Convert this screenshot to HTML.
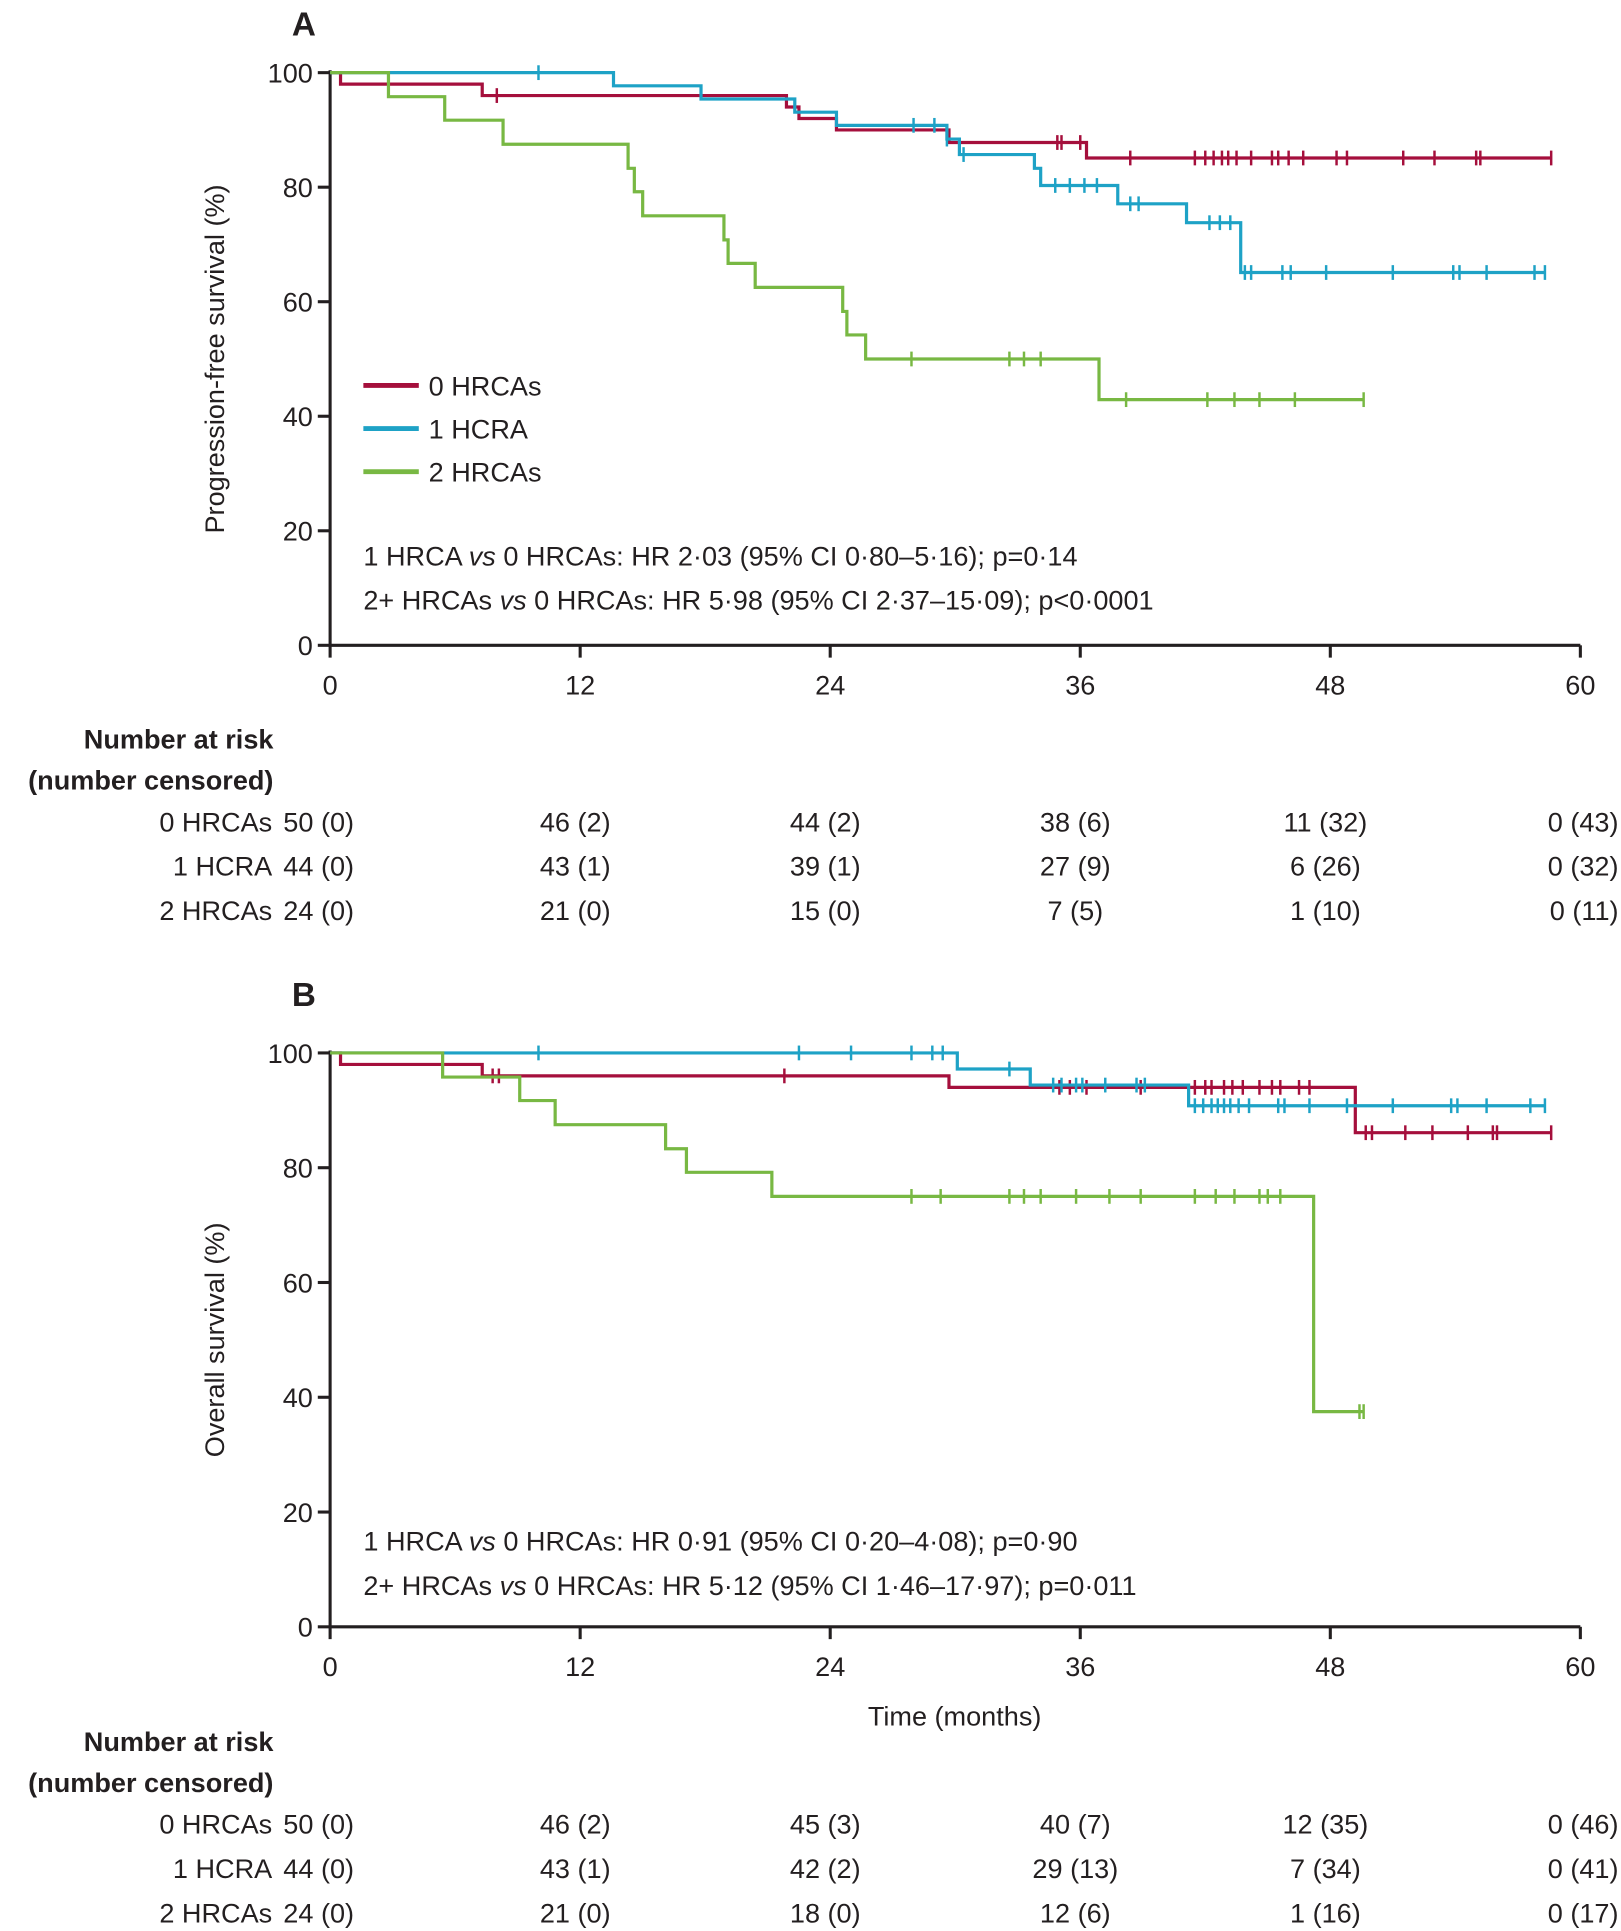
<!DOCTYPE html>
<html><head><meta charset="utf-8"><style>
html,body{margin:0;padding:0;background:#fff;}
svg{display:block;}
text{font-family:"Liberation Sans Narrow","Liberation Sans",sans-serif;fill:#231f20;}
</style></head><body>
<svg id="fig" width="1621" height="1931" viewBox="0 0 1316 1568" preserveAspectRatio="none" xmlns="http://www.w3.org/2000/svg"></svg>
<script>
// ---- data ----
const xTicks = [0, 12, 24, 36, 48, 60];
const yTicks = [0, 20, 40, 60, 80, 100];
const groups = ["0 HRCAs", "1 HCRA", "2 HRCAs"];
const colors = ["#a50f3c", "#1ea2c6", "#78b843"];

// Panel A (PFS): step times and survival values after each step
const aRedT = [0, 0.5, 7.3, 21.9, 22.5, 24.3, 29.7, 36.3, 58.6];
const aRedS = [100, 98, 96, 94, 92, 90, 87.8, 85.1, 85.1];
const aRedC = [8, 34.9, 35.1, 36, 38.4, 41.5, 42, 42.4, 42.8, 43.1, 43.5, 44.2, 45.2, 45.5, 46, 46.7, 48.3, 48.8, 51.5, 53, 55, 55.2, 58.6];
const aBlueT = [0, 13.6, 17.8, 22.3, 24.3, 29.6, 30.2, 33.8, 34.1, 37.8, 41.1, 43.7, 58.3];
const aBlueS = [100, 97.7, 95.4, 93.1, 90.8, 88.4, 85.7, 83.3, 80.3, 77.1, 73.8, 65.1, 65.1];
const aBlueC = [10, 28, 29, 29.6, 30.4, 34.8, 35.5, 36.2, 36.8, 38.4, 38.8, 42.2, 42.7, 43.2, 43.9, 44.2, 45.7, 46.1, 47.8, 51, 53.9, 54.2, 55.5, 57.8, 58.3];
const aGreenT = [0, 2.8, 5.5, 8.3, 14.3, 14.6, 15, 18.9, 19.1, 20.4, 24.6, 24.8, 25.7, 36.9, 49.6];
const aGreenS = [100, 95.8, 91.7, 87.5, 83.3, 79.2, 75, 70.8, 66.7, 62.5, 58.3, 54.2, 50, 42.9, 42.9];
const aGreenC = [27.9, 32.6, 33.3, 34.1, 38.2, 42.1, 43.4, 44.6, 46.3, 49.6];

// Panel B (OS)
const bRedT = [0, 0.5, 7.3, 29.7, 49.2, 58.6];
const bRedS = [100, 98, 96, 94, 86.1, 86.1];
const bRedC = [7.8, 8.1, 21.8, 35, 35.5, 36.3, 38.9, 41.5, 42, 42.3, 42.9, 43.3, 43.8, 44.6, 45.2, 45.6, 46.5, 47, 49.7, 50, 51.6, 52.9, 54.6, 55.8, 56, 58.6];
const bBlueT = [0, 30.1, 33.6, 41.2, 58.3];
const bBlueS = [100, 97.2, 94.4, 90.8, 90.8];
const bBlueC = [10, 22.5, 25, 27.9, 28.9, 29.4, 32.6, 34.7, 35.1, 35.8, 36.1, 37.2, 38.7, 39.1, 41.5, 41.9, 42.3, 42.6, 42.9, 43.2, 43.6, 44.1, 45.5, 45.8, 47, 48.8, 51, 53.8, 54.1, 55.5, 57.6, 58.3];
const bGreenT = [0, 5.4, 9.1, 10.8, 16.1, 17.1, 21.2, 47.2, 49.6];
const bGreenS = [100, 95.8, 91.7, 87.5, 83.3, 79.2, 75, 37.5, 37.5];
const bGreenC = [27.9, 29.3, 32.6, 33.3, 34.1, 35.8, 37.4, 38.9, 41.5, 42.5, 43.4, 44.6, 45, 45.6, 49.4, 49.6];

const riskA = [["50 (0)","46 (2)","44 (2)","38 (6)","11 (32)","0 (43)"],
               ["44 (0)","43 (1)","39 (1)","27 (9)","6 (26)","0 (32)"],
               ["24 (0)","21 (0)","15 (0)","7 (5)","1 (10)","0 (11)"]];
const riskB = [["50 (0)","46 (2)","45 (3)","40 (7)","12 (35)","0 (46)"],
               ["44 (0)","43 (1)","42 (2)","29 (13)","7 (34)","0 (41)"],
               ["24 (0)","21 (0)","18 (0)","12 (6)","1 (16)","0 (17)"]];

const NS = "http://www.w3.org/2000/svg";
const svg = document.getElementById("fig");
function el(tag, attrs, parent, txt) {
  const e = document.createElementNS(NS, tag);
  for (const k in attrs) e.setAttribute(k, attrs[k]);
  if (txt !== undefined) e.textContent = txt;
  (parent || svg).appendChild(e);
  return e;
}
const X0 = 268, X1 = 1283;
const xs = t => X0 + (t / 60) * (X1 - X0);

function panel(cfg) {
  const g = el("g", {});
  
  
  const ys = v => cfg.y0 + (v / 100) * (cfg.y100 - cfg.y0);
  const lab = el("text", {x: 237, y: cfg.labelY, "font-size": 27, "font-weight": "bold"}, g, cfg.letter);
  
  
  // axes
  const ax = el("path", {d: `M${X0} ${ys(100)-2} V${cfg.y0} H${X1}`, stroke: "#231f20", "stroke-width": 2.5, fill: "none"}, g);
  
  
  yTicks.forEach(v => {
    el("line", {x1: X0 - 10, x2: X0, y1: ys(v), y2: ys(v), stroke: "#231f20", "stroke-width": 2.5}, g);
    const t = el("text", {x: X0 - 14, y: ys(v) + 8, "font-size": 22, "text-anchor": "end"}, g, String(v));
    
    
  });
  xTicks.forEach(v => {
    el("line", {x1: xs(v), x2: xs(v), y1: cfg.y0, y2: cfg.y0 + 10, stroke: "#231f20", "stroke-width": 2.5}, g);
    const t = el("text", {x: xs(v), y: cfg.y0 + 40, "font-size": 22, "text-anchor": "middle"}, g, String(v));
    
    
  });
  const yl = el("text", {transform: `translate(182 ${(ys(100)+cfg.y0)/2}) rotate(-90)`, "font-size": 22, "text-anchor": "middle"}, g, cfg.ylabel);
  
  
  // series
  cfg.series.forEach((s, i) => {
    let d = `M${xs(s.t[0])} ${ys(s.s[0])}`;
    for (let k = 1; k < s.t.length; k++) {
      d += ` H${xs(s.t[k])} V${ys(s.s[k])}`;
    }
    const p = el("path", {d, stroke: colors[i], "stroke-width": 2.6, fill: "none"}, g);
    
    
    s.c.forEach(ct => {
      let v = s.s[0];
      for (let k = 0; k < s.t.length; k++) if (s.t[k] <= ct) v = s.s[k];
      const m = el("line", {x1: xs(ct), x2: xs(ct), y1: ys(v) - 6, y2: ys(v) + 6, stroke: colors[i], "stroke-width": 2}, g);
      
      
    });
  });
  // legend
  if (cfg.legend) {
    groups.forEach((gname, i) => {
      const y = 313 + i * 35;
      const ll = el("line", {x1: 295, x2: 340, y1: y, y2: y, stroke: colors[i], "stroke-width": 4}, g);
      
      
      const lt = el("text", {x: 348, y: y + 8, "font-size": 22}, g, gname);
      
      
    });
  }
  // HR text
  cfg.hr.forEach((line, i) => {
    const t = el("text", {x: 295, y: cfg.hrY + i * 36, "font-size": 22}, g);
    
    
    line.forEach(part => {
      const sp = el("tspan", part[1] ? {"font-style": "italic"} : {}, t, part[0]);
    });
  });
  if (cfg.xlabel) {
    const xl = el("text", {x: 775, y: cfg.y0 + 80, "font-size": 22, "text-anchor": "middle"}, g, cfg.xlabel);
    
    
  }
  // risk table
  const rt = el("g", {}, g);
  
  
  el("text", {x: 222, y: cfg.riskY, "font-size": 22, "font-weight": "bold", "text-anchor": "end"}, rt, "Number at risk");
  el("text", {x: 222, y: cfg.riskY + 33, "font-size": 22, "font-weight": "bold", "text-anchor": "end"}, rt, "(number censored)");
  cfg.risk.forEach((row, r) => {
    const y = cfg.riskY + 67 + r * 36;
    el("text", {x: 221, y, "font-size": 22, "text-anchor": "end"}, rt, groups[r]);
    row.forEach((v, c) => {
      const anchor = c === 0 ? "start" : (c === 5 ? "end" : "middle");
      const x = c === 0 ? 230 : (c === 5 ? 1314 : xs(xTicks[c]) - 4);
      const t = el("text", {x, y, "font-size": 22, "text-anchor": anchor}, rt, v);
      
      
    });
  });
}

panel({
  name: "panel-a-pfs", letter: "A", labelY: 29, y0: 524, y100: 59,
  ylabel: "Progression-free survival (%)", legend: true, hrY: 459,
  series: [{t: aRedT, s: aRedS, c: aRedC}, {t: aBlueT, s: aBlueS, c: aBlueC}, {t: aGreenT, s: aGreenS, c: aGreenC}],
  hr: [[["1 HRCA "],["vs",1],[" 0 HRCAs: HR 2·03 (95% CI 0·80–5·16); p=0·14"]],
       [["2+ HRCAs "],["vs",1],[" 0 HRCAs: HR 5·98 (95% CI 2·37–15·09); p<0·0001"]]],
  riskY: 608, risk: riskA
});
panel({
  name: "panel-b-os", letter: "B", labelY: 817, y0: 1321, y100: 855,
  ylabel: "Overall survival (%)", legend: false, hrY: 1259,
  series: [{t: bRedT, s: bRedS, c: bRedC}, {t: bBlueT, s: bBlueS, c: bBlueC}, {t: bGreenT, s: bGreenS, c: bGreenC}],
  hr: [[["1 HRCA "],["vs",1],[" 0 HRCAs: HR 0·91 (95% CI 0·20–4·08); p=0·90"]],
       [["2+ HRCAs "],["vs",1],[" 0 HRCAs: HR 5·12 (95% CI 1·46–17·97); p=0·011"]]],
  xlabel: "Time (months)",
  riskY: 1422, risk: riskB
});
</script>
</body></html>
